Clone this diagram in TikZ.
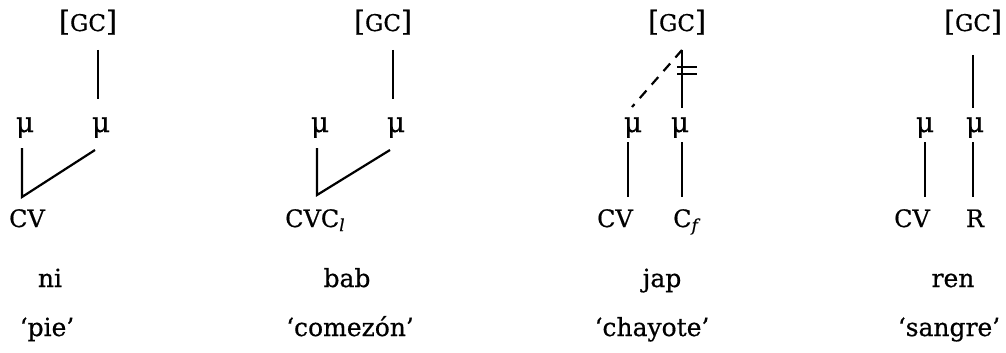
\documentclass[tikz,border=0pt]{standalone}
\usepackage{fontspec}
\setmainfont[FakeBold=0.6]{DejaVu Serif}
\usetikzlibrary{calc}
\tikzset{
  txt/.style={inner sep=0pt, anchor=base, font=\fontsize{25}{28}\selectfont},
  wst/.style={txt},
  must/.style={inner sep=0pt, anchor=base, font=\fontsize{28}{30}\selectfont},
  capst/.style={inner sep=0pt, anchor=base, font=\fontsize{24}{26}\selectfont},
  gcst/.style={inner sep=0pt, anchor=base, font=\fontsize{28}{30}\selectfont},
  ln/.style={line width=2.2pt},
  dsh/.style={line width=2.2pt, dash pattern=on 10pt off 8pt},
}
\newcommand{\gcl}{[{\fontsize{23}{26}\selectfont GC}]}
\begin{document}
\begin{tikzpicture}[x=1pt,y=-1pt]
\useasboundingbox (0,0) rectangle (1006,353);
% ---------- panel 1
\node[gcst] (gc1) at (88,31) {\gcl};
\node[must] (m1a) at (25,132) {μ};
\node[must] (m1b) at (101,132) {μ};
\node[capst] (cv1) at (27,227) {CV};
\node[wst] (w1) at (50,287) {ni};
\node[wst] (g1) at (47,336) {‘pie’};
\coordinate (v1) at ($(cv1.base)+(-5,-30)$);
\draw[ln] ($(gc1.base -| m1b.base)+(-3,19)$) -- ($(m1b.base)+(-3,-33)$);
\draw[ln] ($(m1a.base)+(-3,16)$) -- (v1) -- ($(m1b.base)+(-6,18)$);
% ---------- panel 2
\node[gcst] (gc2) at (383,31) {\gcl};
\node[must] (m2a) at (320,132) {μ};
\node[must] (m2b) at (396,132) {μ};
\node[capst, anchor=base west] (cv2) at (285,227) {CVC\textsubscript{\itshape l}};
\node[wst] (w2) at (347,287) {bab};
\node[wst] (g2) at (350,336) {‘comezón’};
\coordinate (v2) at ($(m2a.base)+(-3,63)$);
\draw[ln] ($(gc2.base -| m2b.base)+(-3,19)$) -- ($(m2b.base)+(-3,-33)$);
\draw[ln] ($(m2a.base)+(-3,16)$) -- (v2) -- ($(m2b.base)+(-6,18)$);
% ---------- panel 3
\node[gcst] (gc3) at (677,31) {\gcl};
\node[must] (m3a) at (633,132) {μ};
\node[must] (m3b) at (680,132) {μ};
\node[capst] (cv3) at (615,227) {CV};
\node[capst, anchor=base west] (cf3) at (673,227) {C\textsubscript{\itshape f}};
\node[wst] (w3) at (662,287) {jap};
\node[wst] (g3) at (652,336) {‘chayote’};
\coordinate (t3) at ($(gc3.base)+(5,19)$);
\draw[ln] (t3) -- ($(m3b.base)+(2,-24)$);
\draw[dsh] (t3) -- ($(m3a.base)+(-1,-25)$);
\draw[ln] ($(t3)+(-5,17)$) -- ($(t3)+(15,17)$);
\draw[ln] ($(t3)+(-5,24)$) -- ($(t3)+(15,24)$);
\draw[ln] ($(m3a.base)+(-5,10)$) -- ($(cv3.base)+(13,-30)$);
\draw[ln] ($(m3b.base)+(2,10)$) -- ($(cf3.base west)+(9,-30)$);
% ---------- panel 4
\node[gcst] (gc4) at (973,31) {\gcl};
\node[must] (m4a) at (925,132) {μ};
\node[must] (m4b) at (975,132) {μ};
\node[capst] (cv4) at (912,227) {CV};
\node[capst] (r4) at (975,227) {R};
\node[wst] (w4) at (953,287) {ren};
\node[wst] (g4) at (949,336) {‘sangre’};
\draw[ln] ($(gc4.base)+(0,24)$) -- ($(m4b.base)+(-2,-24)$);
\draw[ln] ($(m4a.base)+(0,10)$) -- ($(cv4.base)+(13,-30)$);
\draw[ln] ($(m4b.base)+(-2,10)$) -- ($(r4.base)+(-2,-30)$);
\end{tikzpicture}
\end{document}
